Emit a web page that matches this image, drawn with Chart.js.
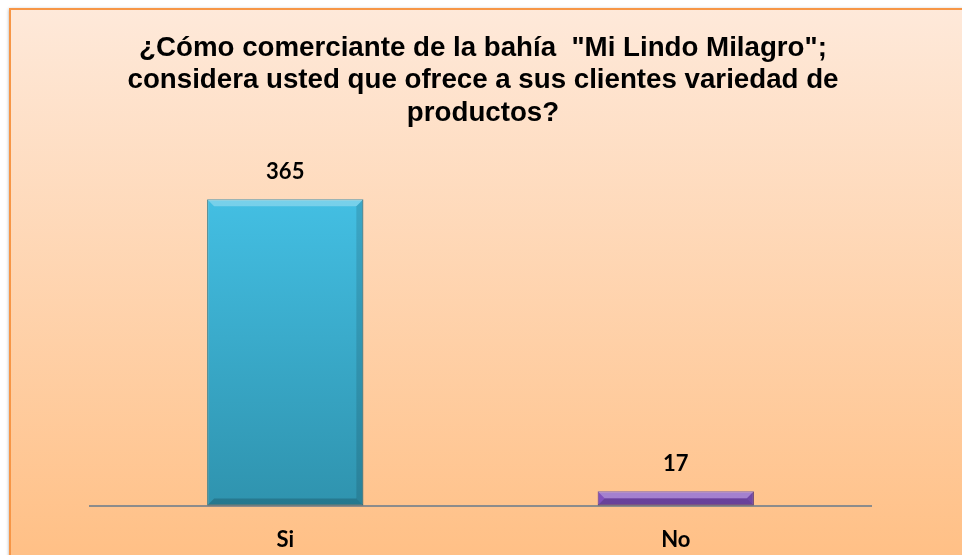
<!DOCTYPE html>
<html>
<head>
<meta charset="utf-8">
<script src="https://cdn.jsdelivr.net/npm/chart.js@4.4.1/dist/chart.umd.min.js"></script>
<style>
  html, body { margin: 0; padding: 0; background: #fff; }
  #wrap { width: 962px; height: 555px; position: relative; }
</style>
</head>
<body>
<div id="wrap"><canvas id="chart" width="962" height="555"></canvas></div>
<script>
// datos de la encuesta
const categories = ['Si', 'No'];
const values = [365, 17];
const titleLines = [
    '¿Cómo comerciante de la bahía  "Mi Lindo Milagro";',
    'considera usted que ofrece a sus clientes variedad de',
    'productos?'
];
const barColors = [['#45C3E8', '#2F93AE'], ['#9C68D8', '#8050BC']];

// fondo degradado con borde naranja
const backgroundPlugin = {
    id: 'fondo',
    beforeDraw(chart) {
        const ctx = chart.ctx;
        ctx.save();
        ctx.fillStyle = '#ffffff';
        ctx.fillRect(0, 0, chart.width, chart.height);
        const g = ctx.createLinearGradient(0, 9, 0, chart.height);
        g.addColorStop(0, '#FEE9DA');
        g.addColorStop(1, '#FFC086');
        ctx.shadowColor = 'rgba(0,0,0,0.35)';
        ctx.shadowBlur = 3;
        ctx.shadowOffsetX = -1;
        ctx.shadowOffsetY = 0;
        ctx.fillStyle = g;
        ctx.fillRect(10, 9, chart.width, chart.height);
        ctx.shadowColor = 'transparent';
        ctx.strokeStyle = '#F79646';
        ctx.lineWidth = 2;
        ctx.strokeRect(10, 9, chart.width + 10, chart.height + 10);
        ctx.restore();
    }
};

// titulo y etiquetas de datos
const textPlugin = {
    id: 'textos',
    afterDatasetsDraw(chart) {
        const ctx = chart.ctx;
        ctx.save();
        ctx.fillStyle = '#000';
        ctx.textAlign = 'center';
        ctx.textBaseline = 'middle';
        ctx.font = 'bold 27.7px "Liberation Sans", Arial, sans-serif';
        titleLines.forEach((t, i) => ctx.fillText(t, 483, 48 + i * 32.5));

        // bisel de las barras
        const meta = chart.getDatasetMeta(0);
        meta.data.forEach((bar, i) => {
            const left = bar.x - bar.width / 2, right = bar.x + bar.width / 2;
            const top = bar.y, bottom = bar.base;
            const b = Math.min(7, (bottom - top) / 2);
            ctx.fillStyle = 'rgba(255,255,255,0.28)';
            ctx.beginPath();
            ctx.moveTo(left, top); ctx.lineTo(right, top);
            ctx.lineTo(right - b, top + b); ctx.lineTo(left + b, top + b);
            ctx.closePath(); ctx.fill();
            ctx.fillStyle = 'rgba(0,0,0,0.12)';
            ctx.beginPath();
            ctx.moveTo(right, top); ctx.lineTo(right, bottom);
            ctx.lineTo(right - b, bottom - b); ctx.lineTo(right - b, top + b);
            ctx.closePath(); ctx.fill();
            ctx.fillStyle = 'rgba(0,0,0,0.18)';
            ctx.beginPath();
            ctx.moveTo(left, bottom); ctx.lineTo(right, bottom);
            ctx.lineTo(right - b, bottom - b); ctx.lineTo(left + b, bottom - b);
            ctx.closePath(); ctx.fill();
            ctx.fillStyle = '#000';
            ctx.font = 'bold 22px Lato, "Open Sans", sans-serif';
            ctx.fillText(values[i], bar.x, bar.y - 27);
        });
        ctx.restore();
    }
};

const ctx = document.getElementById('chart').getContext('2d');
new Chart(ctx, {
    type: 'bar',
    data: {
        labels: categories,
        datasets: [{
            data: values,
            backgroundColor: (c) => {
                const area = c.chart.chartArea;
                const cols = barColors[c.dataIndex % barColors.length];
                if (!area) return cols[0];
                const bar = c.chart.getDatasetMeta(0).data[c.dataIndex];
                const top = bar && isFinite(bar.y) ? bar.y : area.top;
                const bottom = area.bottom;
                const g = c.chart.ctx.createLinearGradient(0, top, 0, bottom);
                g.addColorStop(0, cols[0]);
                g.addColorStop(1, cols[1]);
                return g;
            },
            borderColor: ['#23758C', '#5A3388'],
            borderWidth: 1,
            borderSkipped: false,
            barPercentage: 0.4,
            categoryPercentage: 1.0
        }]
    },
    options: {
        responsive: false,
        animation: false,
        layout: { padding: { top: 170, left: 90, right: 91, bottom: -11 } },
        plugins: {
            legend: { display: false },
            title: { display: false },
            tooltip: { enabled: false }
        },
        scales: {
            x: {
                grid: { display: false },
                border: { display: true, color: '#8C8C8C', width: 2 },
                ticks: {
                    color: '#000',
                    padding: 13,
                    font: { family: 'Lato, "Open Sans", sans-serif', size: 22, weight: 'bold' }
                }
            },
            y: {
                display: false,
                min: 0,
                max: 400
            }
        }
    },
    plugins: [backgroundPlugin, textPlugin]
});
</script>
</body>
</html>
